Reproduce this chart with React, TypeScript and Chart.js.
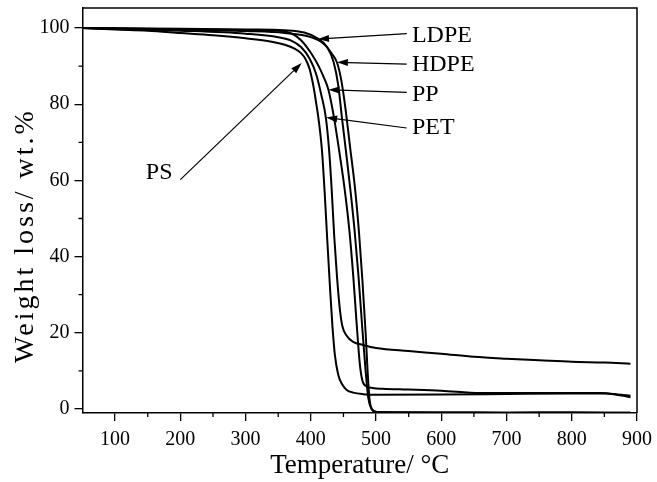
import { useEffect, useRef } from "react";
import { Chart, registerables } from "chart.js";
Chart.register(...registerables);

const FONT = "'Liberation Serif', 'Times New Roman', serif";

// Temperature (°C) / weight (%) pairs
const PS_T = [50, 100, 150, 200, 250, 300, 340, 360, 375, 385, 392, 398, 404, 408, 412, 417, 421, 425, 429, 433, 437, 442, 448, 455, 465, 480, 500, 600, 700, 800, 855, 870, 890];
const PS_W = [100, 99.6, 99.3, 98.7, 98.1, 97.3, 96.4, 95.6, 94.6, 93.4, 91.8, 89.3, 84.7, 80.5, 75.9, 68, 57.5, 45, 33, 22, 14, 9, 6.5, 5, 4.3, 3.9, 3.75, 3.8, 3.95, 4.1, 4.1, 3.8, 3.5];

const PET_T = [50, 100, 200, 300, 350, 370, 385, 398, 408, 416, 423, 428, 432, 436, 440, 444, 448, 455, 465, 480, 500, 550, 600, 650, 700, 750, 800, 850, 890];
const PET_W = [100, 99.8, 99.3, 98.5, 97.6, 96.7, 95, 92, 88, 82.5, 76.5, 68, 57.5, 45, 35, 27, 22, 19.2, 17.6, 16.8, 16, 15.2, 14.5, 13.7, 13.2, 12.8, 12.4, 12.2, 11.9];

const PP_T = [50, 100, 200, 300, 355, 370, 385, 400, 412, 420, 427, 435, 445, 452, 459, 465, 470, 475, 479, 485, 495, 510, 550, 600, 660, 750, 844, 864, 890];
const PP_W = [100, 99.9, 99.7, 99.5, 99.2, 98.6, 96.8, 93.5, 90, 87, 83.8, 77, 66, 57.5, 47, 35, 23, 12, 7.5, 6, 5.5, 5.3, 5.1, 4.8, 4.2, 4.2, 4.2, 3.9, 3.1];

const LDPE_T = [50, 200, 300, 360, 390, 411, 425, 435, 442, 448, 455, 461, 467, 473, 479, 484, 488, 493, 500, 600, 700, 800, 890];
const LDPE_W = [100, 99.8, 99.6, 99.4, 98.8, 97.2, 95, 91, 85, 76, 66, 57, 47, 35, 21, 10, 3, 0, -0.8, -0.9, -1, -0.9, -1];

const HDPE_T = [50, 200, 300, 360, 400, 420, 432, 440, 447, 453, 460, 468, 474, 479, 484, 487, 490, 495, 502, 600, 700, 800, 890];
const HDPE_W = [100, 99.6, 99.2, 98.7, 97.6, 95.8, 93.3, 91, 86, 79, 69, 57.5, 46, 34, 20, 10, 2.5, -0.3, -0.8, -0.9, -1, -0.9, -1];

const X_TICKS = [100, 200, 300, 400, 500, 600, 700, 800, 900];
const X_MINOR = [150, 250, 350, 450, 550, 650, 750, 850];
const Y_TICKS = [0, 20, 40, 60, 80, 100];
const Y_MINOR = [10, 30, 50, 70, 90];

const X_TITLE = "Temperature/ °C";
const Y_TITLE = "Weight loss/ wt.%";

// Annotation labels: text anchor (T, W), arrow start (T, W), arrow tip (T, W)
const LABELS = ["LDPE", "HDPE", "PP", "PET", "PS"];
const LABEL_T = [555, 555, 555, 555, 188];
const LABEL_W = [98.0, 90.4, 82.5, 73.8, 62.0];
const LABEL_ALIGN = ["left", "left", "left", "left", "right"];
const ARROW_FROM_T = [547, 547, 547, 547, 200];
const ARROW_FROM_W = [98.5, 90.5, 83.1, 73.75, 60.2];
const ARROW_TO_T = [411, 440, 427, 423.5, 386];
const ARROW_TO_W = [97.1, 91.0, 83.8, 76.5, 90.8];

const SERIES_T = [PS_T, PET_T, PP_T, LDPE_T, HDPE_T];
const SERIES_W = [PS_W, PET_W, PP_W, LDPE_W, HDPE_W];
const SERIES_NAMES = ["PS", "PET", "PP", "LDPE", "HDPE"];

const decorPlugin = {
  id: "decor",
  afterDraw(chart: any) {
    const { ctx, chartArea: a, scales } = chart;
    const xs = scales.x;
    const ys = scales.y;
    ctx.save();
    ctx.strokeStyle = "#000";
    ctx.fillStyle = "#000";
    // frame top and right
    ctx.lineWidth = 1.5;
    ctx.beginPath();
    ctx.moveTo(a.left, a.top);
    ctx.lineTo(a.right, a.top);
    ctx.lineTo(a.right, a.bottom);
    ctx.stroke();
    // minor ticks
    ctx.lineWidth = 1.3;
    ctx.beginPath();
    X_MINOR.forEach((v) => {
      const x = xs.getPixelForValue(v);
      ctx.moveTo(x, a.bottom);
      ctx.lineTo(x, a.bottom + 4);
    });
    Y_MINOR.forEach((v) => {
      const y = ys.getPixelForValue(v);
      ctx.moveTo(a.left, y);
      ctx.lineTo(a.left - 4, y);
    });
    ctx.stroke();
    // y axis title (letter-spaced, rotated)
    ctx.save();
    ctx.font = `28px ${FONT}`;
    (ctx as any).letterSpacing = "3px";
    ctx.textAlign = "center";
    ctx.textBaseline = "alphabetic";
    ctx.translate(33, (a.top + a.bottom) / 2 + 25);
    ctx.rotate(-Math.PI / 2);
    ctx.fillText(Y_TITLE, 0, 0);
    ctx.restore();
    // annotations
    ctx.font = `24px ${FONT}`;
    ctx.textBaseline = "middle";
    LABELS.forEach((lab, i) => {
      ctx.textAlign = LABEL_ALIGN[i] as CanvasTextAlign;
      ctx.fillText(lab, xs.getPixelForValue(LABEL_T[i]), ys.getPixelForValue(LABEL_W[i]));
      const x1 = xs.getPixelForValue(ARROW_FROM_T[i]);
      const y1 = ys.getPixelForValue(ARROW_FROM_W[i]);
      const x2 = xs.getPixelForValue(ARROW_TO_T[i]);
      const y2 = ys.getPixelForValue(ARROW_TO_W[i]);
      const ang = Math.atan2(y2 - y1, x2 - x1);
      const hl = 11;
      const hw = 3.5;
      const bx = x2 - hl * Math.cos(ang);
      const by = y2 - hl * Math.sin(ang);
      ctx.lineWidth = 1.2;
      ctx.beginPath();
      ctx.moveTo(x1, y1);
      ctx.lineTo(bx, by);
      ctx.stroke();
      ctx.beginPath();
      ctx.moveTo(x2, y2);
      ctx.lineTo(bx + hw * Math.sin(ang), by - hw * Math.cos(ang));
      ctx.lineTo(bx - hw * Math.sin(ang), by + hw * Math.cos(ang));
      ctx.closePath();
      ctx.fill();
    });
    ctx.restore();
  },
};

export default function App() {
  const ref = useRef<HTMLCanvasElement>(null);
  useEffect(() => {
    if (!ref.current) return;
    const datasets = SERIES_T.map((ts, i) => ({
      label: SERIES_NAMES[i],
      data: ts.map((t, j) => ({ x: t, y: SERIES_W[i][j] })),
      borderColor: "#000",
      backgroundColor: "#000",
      borderWidth: 2,
      pointRadius: 0,
      fill: false,
      cubicInterpolationMode: "monotone" as const,
    }));
    const chart = new Chart(ref.current, {
      type: "line",
      data: { datasets },
      options: {
        responsive: false,
        animation: false,
        devicePixelRatio: 1,
        layout: { padding: { top: 8, right: 20, left: 0, bottom: 0 } },
        plugins: { legend: { display: false }, tooltip: { enabled: false } },
        scales: {
          x: {
            type: "linear",
            min: 50,
            max: 900,
            afterBuildTicks: (s: any) => {
              s.ticks = X_TICKS.map((v) => ({ value: v }));
            },
            afterFit: (s: any) => {
              s.height = 69;
              s.paddingLeft = 0;
              s.paddingRight = 0;
            },
            ticks: { font: { family: FONT, size: 20 }, color: "#000", padding: 7, maxRotation: 0, autoSkip: false },
            grid: { display: true, drawOnChartArea: false, drawTicks: true, tickLength: 8, color: "#000", lineWidth: 1.3 },
            border: { display: true, color: "#000", width: 1.5 },
            title: {
              display: true,
              text: X_TITLE,
              font: { family: FONT, size: 27 },
              color: "#000",
              padding: { top: 0, bottom: 0 },
            },
          },
          y: {
            type: "linear",
            min: -1.05,
            max: 105.25,
            afterBuildTicks: (s: any) => {
              s.ticks = Y_TICKS.map((v) => ({ value: v }));
            },
            afterFit: (s: any) => {
              s.width = 82.5;
              s.paddingTop = 0;
              s.paddingBottom = 0;
            },
            ticks: { font: { family: FONT, size: 20 }, color: "#000", padding: 5, autoSkip: false },
            grid: { display: true, drawOnChartArea: false, drawTicks: true, tickLength: 8, color: "#000", lineWidth: 1.3 },
            border: { display: true, color: "#000", width: 1.5 },
            title: { display: false },
          },
        },
      },
      plugins: [decorPlugin],
    });
    return () => chart.destroy();
  }, []);
  return (
    <div style={{ position: "fixed", left: 0, top: 0, width: 657, height: 482, background: "#fff" }}>
      <canvas ref={ref} width={657} height={482} style={{ display: "block", width: 657, height: 482 }} />
    </div>
  );
}
